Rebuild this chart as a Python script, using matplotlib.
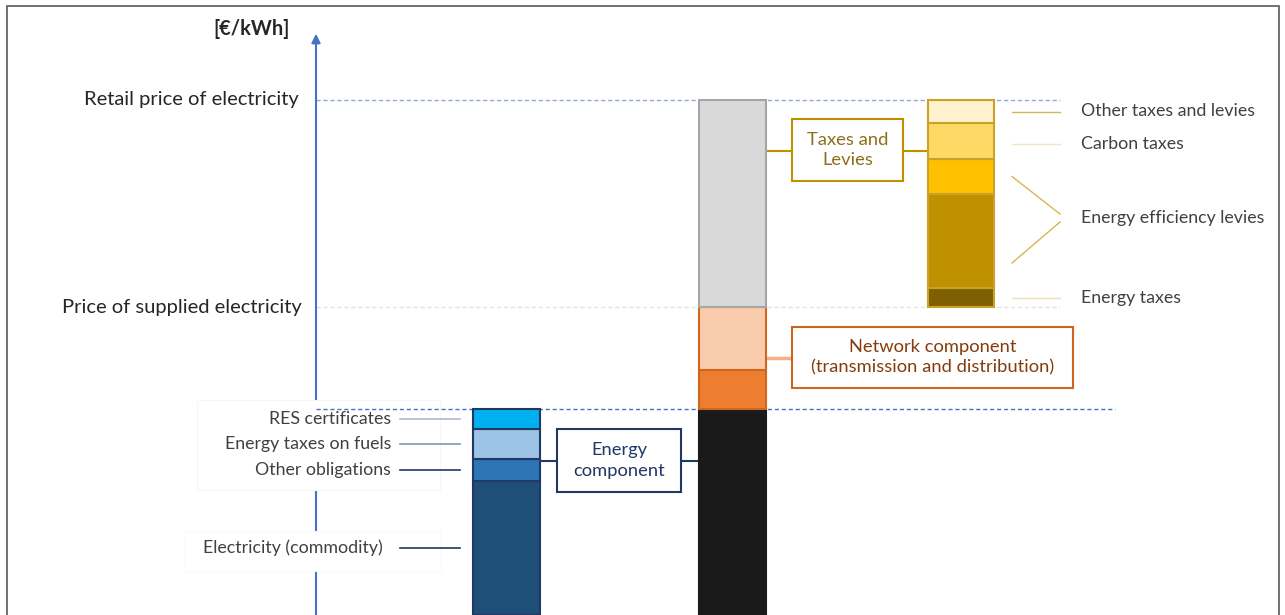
import numpy as np
import matplotlib.pyplot as plt
from matplotlib.patches import Rectangle

plt.rcParams['font.family'] = ['Lato', 'DejaVu Sans']

# price build-up, arbitrary units of [€/kWh]
energy_labels = ["Electricity (commodity)", "Other obligations",
                 "Energy taxes on fuels", "RES certificates"]
energy_values = [134, 22, 30, 20]

total_labels = ["Energy component", "Network (transmission)",
                "Network (distribution)", "Taxes and levies"]
total_values = [206, 39, 63, 207]

tax_labels = ["Energy taxes", "Energy efficiency levies (a)",
              "Energy efficiency levies (b)", "Carbon taxes",
              "Other taxes and levies"]
tax_values = [19, 94, 35, 36, 23]

level_labels = ["Retail price of electricity", "Price of supplied electricity"]

energy_colors = ["#1f4e79", "#2e75b6", "#9dc3e6", "#00b0f0"]
total_colors = ["#1a1a1a", "#ed7d31", "#f8cbad", "#d9d9d9"]
total_edges = ["#1a1a1a", "#d0661e", "#d0661e", "#a6a6a6"]
tax_colors = ["#7f6000", "#bf9000", "#ffc000", "#ffd966", "#fff2cc"]

AXIS_BLUE = "#4472c4"
TEXT = "#404040"
FS = 13.2
FS_SIDE = 12.8

fig = plt.figure(figsize=(12.85, 6.15), dpi=100)
ax = fig.add_axes([0, 0, 1, 1])
ax.set_xlim(0, 1285)
ax.set_ylim(0, 615)
ax.axis("off")

# outer frame
ax.add_patch(Rectangle((7, -10), 1272, 619, fill=False, ec="#595959", lw=1.2, zorder=1))


def stack(x, width, values, colors, edges, base=0):
    bottoms = base + np.concatenate([[0], np.cumsum(values)[:-1]])
    ax.bar([x] * len(values), values, width=width, bottom=bottoms, color=colors,
           edgecolor=edges, linewidth=1.5, align="edge", zorder=4)
    return bottoms + np.array(values) / 2


energy_top = sum(energy_values)
supplied = sum(total_values[:3])
retail = sum(total_values)

# reference levels
ax.plot([316, 1060], [retail, retail], ls=(0, (3, 2)), color="#8fa9dc", lw=1, zorder=2)
ax.plot([316, 1060], [supplied, supplied], ls=(0, (3, 2)), color="#e3e3e3", lw=1, zorder=2)
ax.plot([316, 1115], [energy_top, energy_top], ls=(0, (3, 2)), color=AXIS_BLUE, lw=1, zorder=3.5)

# y axis arrow
ax.annotate("", xy=(316, 584), xytext=(316, -5),
            arrowprops=dict(arrowstyle="-|>", color=AXIS_BLUE, lw=1.5, mutation_scale=13),
            zorder=2)
ax.text(252, 586, "[€/kWh]", ha="center", va="center", fontsize=14.4, fontweight="bold",
        color="#262626")
ax.text(299, retail, level_labels[0], ha="right", va="center", fontsize=14.5, color="#262626")
ax.text(302, supplied, level_labels[1], ha="right", va="center", fontsize=14.5, color="#262626")

# bars
e_mid = stack(473, 67, energy_values, energy_colors, "#203864")
stack(699, 67, total_values, total_colors, total_edges)
t_mid = stack(928, 66, tax_values, tax_colors, "#c9a227", base=supplied)

# white label panels on the left, covering the axis
ax.add_patch(Rectangle((197, 125), 243, 90, fc="white", ec="#f6f6f6", lw=0.8, zorder=3))
ax.add_patch(Rectangle((184, 44), 256, 40, fc="white", ec="#fafafa", lw=0.8, zorder=3))

line_cols = ["#203864", "#203864", "#8496b0", "#adb9ca"]
for lab, y, c in zip(energy_labels, e_mid, line_cols):
    xr = 383 if lab.startswith("Electricity") else 391
    ax.text(xr, y, lab, ha="right", va="center", fontsize=FS_SIDE, color=TEXT, zorder=5)
    ax.plot([400, 460], [y, y], color=c, lw=1.2, zorder=5)

# tax labels on the right
gold = "#d6b656"
ax.text(1081, t_mid[4], tax_labels[4], ha="left", va="center", fontsize=FS_SIDE, color=TEXT)
ax.plot([1012, 1060], [t_mid[4], t_mid[4]], color=gold, lw=1)
ax.text(1081, t_mid[3] - 3, tax_labels[3], ha="left", va="center", fontsize=FS_SIDE, color=TEXT)
ax.plot([1012, 1060], [t_mid[3] - 3, t_mid[3] - 3], color="#f3e6c0", lw=1)
ax.text(1081, t_mid[0], tax_labels[0], ha="left", va="center", fontsize=FS_SIDE, color=TEXT)
ax.plot([1012, 1060], [t_mid[0], t_mid[0]], color="#efe0b5", lw=1)
ax.text(1081, 397, "Energy efficiency levies", ha="left", va="center", fontsize=FS_SIDE, color=TEXT)
ax.plot([1012, 1060], [t_mid[2], 401], color=gold, lw=1)
ax.plot([1060, 1012], [393, 352], color=gold, lw=1)


def callout(x0, x1, y0, y1, text, edge, tcol):
    ax.add_patch(Rectangle((x0, y0), x1 - x0, y1 - y0, fc="white", ec=edge, lw=1.5, zorder=5))
    ax.text((x0 + x1) / 2, (y0 + y1) / 2, text, ha="center", va="center",
            fontsize=FS, color=tcol, linespacing=1.35, zorder=6)


# taxes and levies
callout(792, 903, 434, 496, "Taxes and\nLevies", "#bf9000", "#8d6e1a")
ax.plot([766, 792], [464, 464], color="#bf9000", lw=1.5, zorder=3)
ax.plot([903, 928], [464, 464], color="#bf9000", lw=1.5, zorder=3)

# network component
callout(792, 1073, 227, 288, "Network component\n(transmission and distribution)", "#d0661e", "#843c0c")
ax.plot([766, 792], [257, 257], color="#f4b183", lw=2.5, zorder=3)

# energy component
callout(557, 681, 123, 186, "Energy\ncomponent", "#203864", "#203864")
ax.plot([540, 557], [154, 154], color="#203864", lw=1.5, zorder=3)
ax.plot([681, 699], [154, 154], color="#203864", lw=1.5, zorder=3)

fig.savefig("out.png", dpi=100)
